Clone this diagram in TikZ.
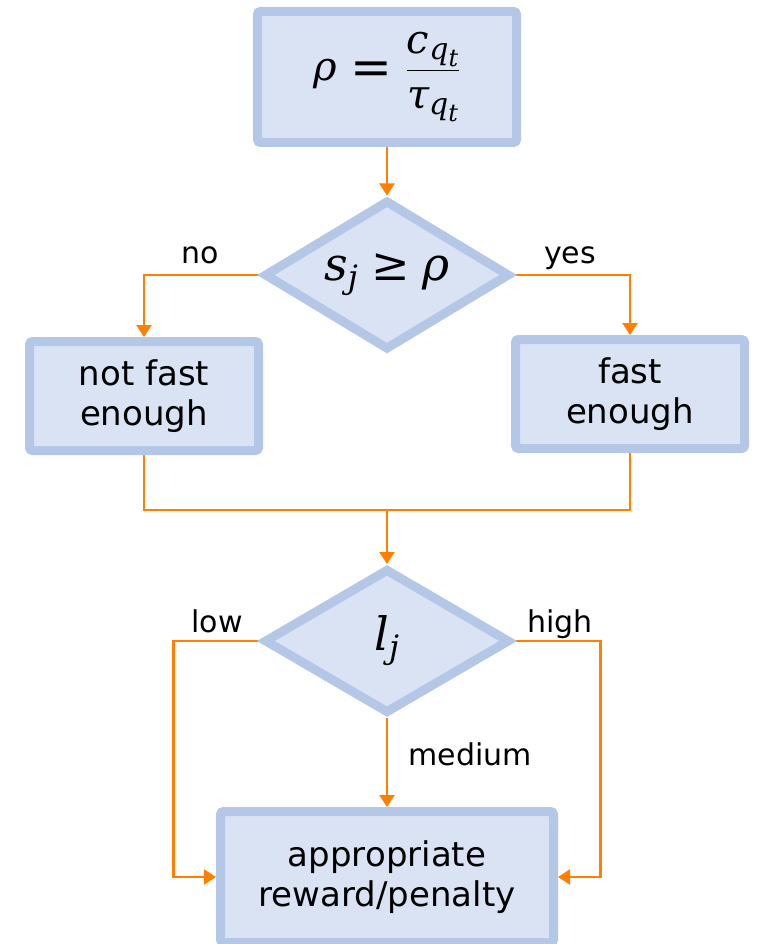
\documentclass[tikz,border=0pt]{standalone}
\usepackage{fix-cm}
\usepackage{amsmath}
\usepackage{fontspec}
\setmainfont{DejaVu Sans}
\newfontfamily\formulafont{DejaVu Serif}
\usetikzlibrary{arrows.meta,shapes.geometric,backgrounds}

% larger script sizes for the 40pt formula
\DeclareMathSizes{40}{40}{30}{24}

% italic variables and upright relations, set in a serif with a tall x-height
\newcommand{\mvar}[1]{\text{\formulafont\itshape #1}}
\newcommand{\mrel}[1]{\mathrel{\text{\formulafont #1}}}
% a wider equals sign, lowered so its bars sit on the fraction line
\newcommand{\bigeq}{\mathrel{\mkern1mu\text{\formulafont\raisebox{-4pt}{\fontsize{50}{50}\selectfont =}}\mkern1mu}}

\definecolor{boxline}{RGB}{180,199,231}
\definecolor{boxfill}{RGB}{218,227,243}
\definecolor{flow}{RGB}{255,128,0}

\tikzset{
  procbox/.style={rectangle, draw=boxline, fill=boxfill, line width=9pt,
    rounded corners=3pt, align=center, inner sep=0pt,
    font=\fontsize{34}{40}\selectfont},
  decision/.style={diamond, draw=boxline, fill=boxfill, line width=9pt,
    inner sep=0pt, aspect=1.66, font=\fontsize{46}{54}\selectfont},
  flowline/.style={draw=flow, line width=2.6pt},
  flowarrow/.style={flowline, -{Triangle[length=12pt,width=15pt]}},
  branch/.style={font=\fontsize{30}{36}\selectfont, inner sep=0pt, anchor=base}
}

\begin{document}
\begin{tikzpicture}[x=1pt, y=-1pt]
  \useasboundingbox (0,0) rectangle (756,944);

  % decision chain
  \node[procbox, minimum width=259pt, minimum height=131pt,
        font=\fontsize{40}{48}\selectfont] (rho) at (387,77)
        {$\mvar{ρ}\bigeq\dfrac{\mvar{c}_{\mvar{q}_{\mvar{t}}}}{\mvar{τ}_{\mvar{q}_{\mvar{t}}}}$};
  \node[decision, minimum width=246pt, minimum height=150pt] (speed) at (387,275)
        {$\mvar{s}_{\mvar{j}}\mrel{≥}\mvar{ρ}$};
  \node[procbox, minimum width=229pt, minimum height=109pt] (slow) at (144,396)
        {not fast\\enough};
  \node[procbox, minimum width=229pt, minimum height=109pt] (fast) at (630,394)
        {fast\\enough};
  \node[decision, minimum width=246pt, minimum height=145pt] (level) at (387,641)
        {$\mvar{l}_{\mvar{j}}$};
  \node[procbox, minimum width=333pt, minimum height=131pt] (result) at (387,877)
        {appropriate\\reward/penalty};

  \coordinate (merge) at (387,510);

  % branch labels, placed by their baselines
  \node[branch] (lno) at (200,263) {no};
  \node[branch] (lyes) at (570,263) {yes};
  \node[branch] (llow) at (217,632) {low};
  \node[branch] (lhigh) at (560,632) {high};
  \node[branch] (lmed) at (470,765) {medium};

  \begin{pgfonlayer}{background}
    \draw[flowarrow] (rho.south) -- (speed.north);
    \draw[flowarrow] (speed.west) -| (slow.north);
    \draw[flowarrow] (speed.east) -| (fast.north);
    \draw[flowline] (slow.south) |- (merge) -| (fast.south);
    \draw[flowarrow] (merge) -- (level.north);
    \draw[flowarrow] (level.west) -- ++(-86,0) |- (result.west);
    \draw[flowarrow] (level.east) -- ++(86,0) |- (result.east);
    \draw[flowarrow] (level.south) -- (result.north);
  \end{pgfonlayer}
\end{tikzpicture}
\end{document}
